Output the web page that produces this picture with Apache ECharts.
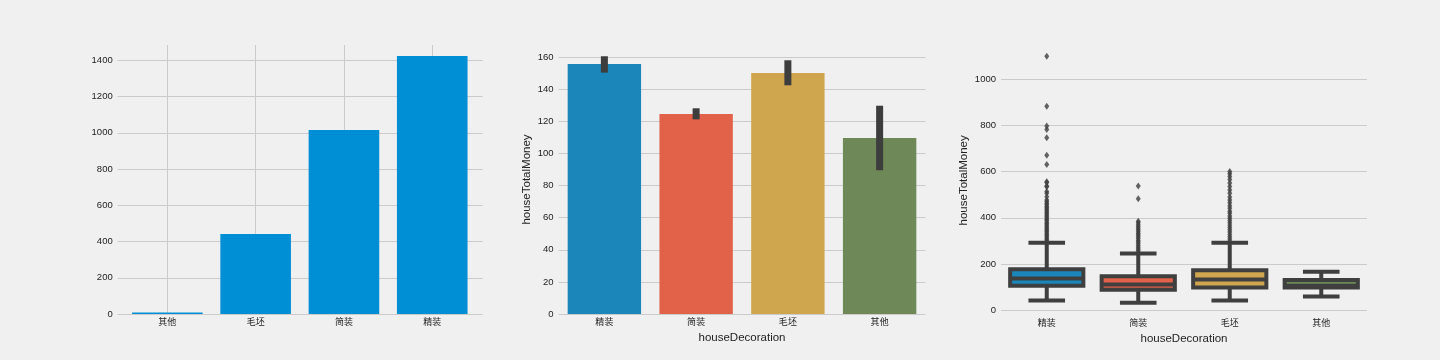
<!DOCTYPE html>
<html><head><meta charset="utf-8">
<script src="https://cdn.jsdelivr.net/npm/echarts@6/dist/echarts.min.js"></script>
<style>html,body{margin:0;padding:0;background:#f0f0f0}#c{width:1440px;height:360px}</style>
</head><body><div id="c"></div>
<script>
// ---- data ----
const countCats = ['其他', '毛坯', '简装', '精装'];
const countVals = [8, 442, 1016, 1424];

const decoCats = ['精装', '简装', '毛坯', '其他'];
const meanVals = [155.7, 124.5, 150.1, 109.6];
const ciLow = [150.3, 121.2, 142.4, 89.5];
const ciHigh = [160.5, 128.1, 158.0, 129.7];

const boxLow = [42, 33, 42, 59];
const boxQ1 = [106, 89, 98, 98];
const boxMed = [137, 111, 133, 106];
const boxQ3 = [177, 147, 173, 131];
const boxHigh = [292, 245, 292, 167];

const outJing = [1098, 882, 797, 782, 746, 670, 630, 556, 552, 537, 534, 513, 506, 491, 477, 470, 463, 457, 450, 444, 438, 431, 425, 419, 412, 406, 400, 394, 388, 381, 375, 369, 362, 356, 350, 344, 338, 331, 325, 319, 312, 306, 300, 295];
const outJian = [537, 482, 385, 378, 370, 362, 355, 347, 340, 332, 325, 318, 310, 302, 295, 288, 280, 272, 265, 258, 250];
const outMao = [600, 590, 578, 565, 550, 535, 520, 506, 490, 477, 465, 452, 441, 428, 419, 408, 398, 388, 378, 368, 358, 348, 338, 328, 318, 308, 298];
const outQita = [];

const countTickMax = 1400, countTickStep = 200;
const meanTickMax = 160, meanTickStep = 20;
const boxTickMax = 1000, boxTickStep = 200;

// ---- style ----
const palette = ['#1b86ba', '#e26149', '#cfa64e', '#6e8857'];
const dark = '#3f3f3f';
const gridColor = '#cbcbcb';
const textColor = '#222222';
const FONT = "'Liberation Sans', 'Noto Sans CJK SC', sans-serif";

const chart = echarts.init(document.getElementById('c'), null, {renderer: 'canvas'});

const valLabel = {color: textColor, fontSize: 9.5, margin: 5, fontFamily: FONT, formatter: v => String(v)};
const catLabel = {color: textColor, fontSize: 9, margin: 4, interval: 0, fontFamily: FONT};
const split = {show: true, lineStyle: {color: gridColor, width: 1}};
const nameStyle = {color: textColor, fontSize: 11.5, fontFamily: FONT};

const hiddenX = (g) => ({gridIndex: g, type: 'value', show: false});
const bare = {axisLine: {show: false}, axisTick: {show: false}};

const outliers = [];
[outJing, outJian, outMao, outQita].forEach((arr, i) => arr.forEach(v => outliers.push([i, v])));

chart.setOption({
  backgroundColor: '#f0f0f0',
  animation: false,
  textStyle: {fontFamily: FONT},
  grid: [
    {left: 117.7, top: 60.4, width: 365, height: 253.6},   // 0 left visual
    {left: 123.2, top: 45, width: 353.2, height: 269},     // 1 left data
    {left: 167.35, top: 45, width: 264.9, height: 269},    // 2 left vertical lines
    {left: 558.5, top: 57, width: 367, height: 257},       // 3 mid visual
    {left: 558.5, top: 45, width: 367, height: 269},       // 4 mid data
    {left: 1001, top: 79, width: 366, height: 231.3},      // 5 right visual
    {left: 1001, top: 45, width: 366, height: 270.7}       // 6 right data
  ],
  xAxis: [
    hiddenX(0),
    Object.assign({gridIndex: 1, type: 'category', data: countCats, axisLabel: catLabel, splitLine: {show: false}}, bare),
    Object.assign({gridIndex: 2, type: 'category', data: countCats, boundaryGap: false, axisLabel: {show: false}, splitLine: Object.assign({interval: 0}, split)}, bare),
    hiddenX(3),
    Object.assign({gridIndex: 4, type: 'category', data: decoCats, axisLabel: catLabel, splitLine: {show: false},
      name: 'houseDecoration', nameLocation: 'middle', nameGap: 16, nameTextStyle: nameStyle}, bare),
    hiddenX(5),
    Object.assign({gridIndex: 6, type: 'category', data: decoCats, axisLabel: Object.assign({}, catLabel, {margin: 3}), splitLine: {show: false},
      name: 'houseDecoration', nameLocation: 'middle', nameGap: 14.5, nameTextStyle: nameStyle}, {axisLine: {show: false, onZero: false}, axisTick: {show: false}})
  ],
  yAxis: [
    Object.assign({gridIndex: 0, type: 'value', min: 0, max: countTickMax, interval: countTickStep, axisLabel: valLabel, splitLine: split}, bare),
    {gridIndex: 1, type: 'value', min: 0, max: 1485, show: false},
    {gridIndex: 2, type: 'value', show: false},
    Object.assign({gridIndex: 3, type: 'value', min: 0, max: meanTickMax, interval: meanTickStep, axisLabel: valLabel, splitLine: split}, bare),
    Object.assign({gridIndex: 4, type: 'value', min: 0, max: 167.5, axisLabel: {show: false}, splitLine: {show: false},
      name: 'houseTotalMoney', nameLocation: 'middle', nameGap: 26, nameTextStyle: nameStyle}, bare),
    Object.assign({gridIndex: 5, type: 'value', min: 0, max: boxTickMax, interval: boxTickStep, axisLabel: valLabel, splitLine: split}, bare),
    Object.assign({gridIndex: 6, type: 'value', min: -23.5, max: 1147, axisLabel: {show: false}, splitLine: {show: false},
      name: 'houseTotalMoney', nameLocation: 'middle', nameGap: 31, nameTextStyle: nameStyle}, bare)
  ],
  series: [
    {
      type: 'bar', xAxisIndex: 1, yAxisIndex: 1, data: countVals, barWidth: 70.6,
      itemStyle: {color: '#008fd5'}
    },
    {
      type: 'bar', xAxisIndex: 4, yAxisIndex: 4, barWidth: '80%',
      data: meanVals.map((v, i) => ({value: v, itemStyle: {color: palette[i]}}))
    },
    {
      type: 'custom', xAxisIndex: 4, yAxisIndex: 4,
      encode: {x: 0, y: [1, 2]},
      data: decoCats.map((c, i) => [i, ciLow[i], ciHigh[i]]),
      renderItem: function (params, api) {
        const lo = api.coord([api.value(0), api.value(1)]);
        const hi = api.coord([api.value(0), api.value(2)]);
        return {type: 'rect', shape: {x: lo[0] - 3.5, y: hi[1], width: 7, height: lo[1] - hi[1]},
          style: {fill: '#3d3d3d'}};
      },
      z: 3
    },
    {
      type: 'custom', xAxisIndex: 6, yAxisIndex: 6,
      encode: {x: 0, y: [1, 2, 3, 4, 5]},
      data: decoCats.map((c, i) => [i, boxLow[i], boxQ1[i], boxMed[i], boxQ3[i], boxHigh[i]]),
      renderItem: function (params, api) {
        const idx = api.value(0);
        const band = api.size([1, 0])[0];
        const pLow = api.coord([idx, api.value(1)]);
        const pQ1 = api.coord([idx, api.value(2)]);
        const pMed = api.coord([idx, api.value(3)]);
        const pQ3 = api.coord([idx, api.value(4)]);
        const pHigh = api.coord([idx, api.value(5)]);
        const x = pLow[0];
        const hw = band * 0.4, cw = band * 0.2;
        const ls = {stroke: dark, lineWidth: 4, fill: null};
        return {type: 'group', children: [
          {type: 'line', shape: {x1: x, y1: pQ3[1], x2: x, y2: pHigh[1]}, style: ls},
          {type: 'line', shape: {x1: x, y1: pQ1[1], x2: x, y2: pLow[1]}, style: ls},
          {type: 'line', shape: {x1: x - cw, y1: pHigh[1], x2: x + cw, y2: pHigh[1]}, style: ls},
          {type: 'line', shape: {x1: x - cw, y1: pLow[1], x2: x + cw, y2: pLow[1]}, style: ls},
          {type: 'rect', shape: {x: x - hw, y: pQ3[1], width: 2 * hw, height: pQ1[1] - pQ3[1]},
            style: {fill: palette[params.dataIndex], stroke: dark, lineWidth: 4}},
          {type: 'line', shape: {x1: x - hw, y1: pMed[1], x2: x + hw, y2: pMed[1]}, style: ls}
        ]};
      }
    },
    {
      type: 'scatter', xAxisIndex: 6, yAxisIndex: 6, data: outliers,
      symbol: 'diamond', symbolSize: [5, 7], itemStyle: {color: dark}
    }
  ]
});
</script>
</body></html>
